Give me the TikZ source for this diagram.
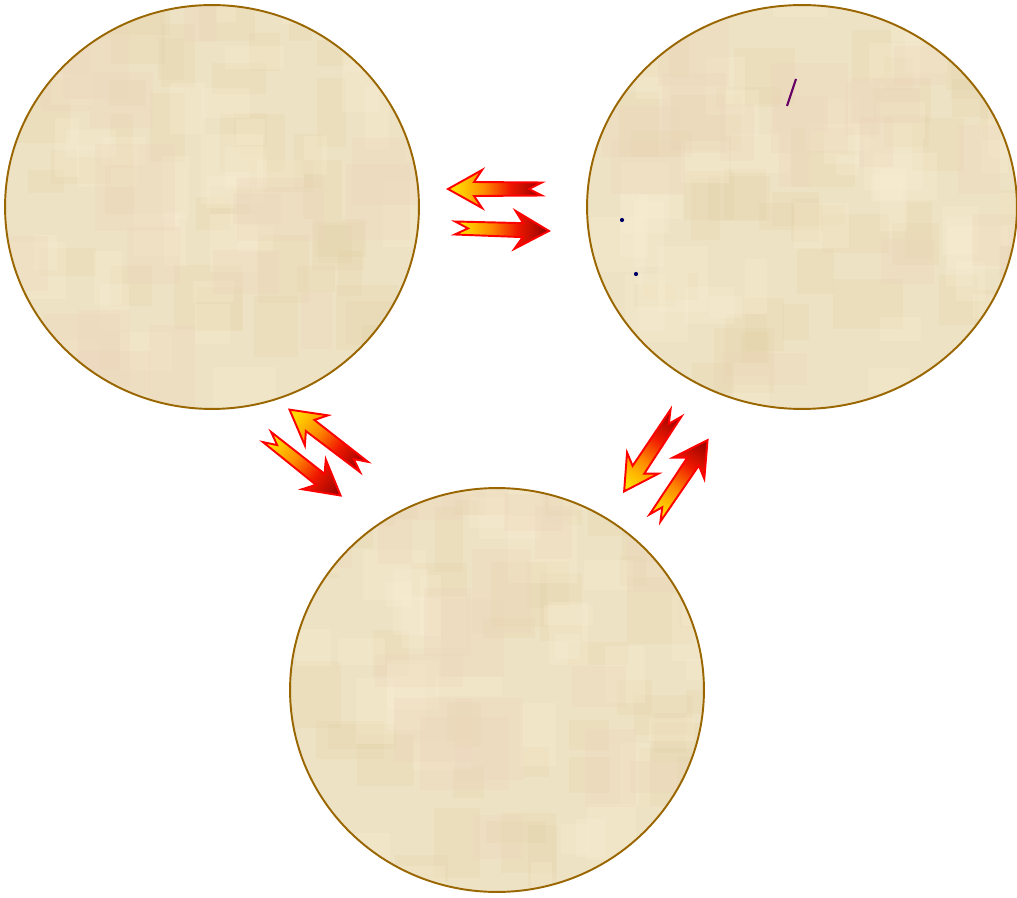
\documentclass[tikz,border=0pt]{standalone}
\usepackage{tikz}
\usetikzlibrary{shapes.geometric}
\definecolor{parchment}{RGB}{238,226,196}
\definecolor{parchlight}{RGB}{248,238,210}
\definecolor{parchtan}{RGB}{226,206,162}
\definecolor{parchpink}{RGB}{236,212,186}
\definecolor{rim}{RGB}{153,102,0}
\definecolor{flameyellow}{RGB}{255,220,0}
\definecolor{flameorange}{RGB}{255,140,0}
\definecolor{flamered}{RGB}{240,24,0}
\definecolor{flamedark}{RGB}{140,0,0}
\definecolor{arrowred}{RGB}{255,0,0}
\definecolor{tick}{RGB}{102,0,102}
\definecolor{dotblue}{RGB}{0,0,102}
\pgfdeclarehorizontalshading{flame}{100bp}{color(0bp)=(flameyellow); color(29bp)=(flameyellow);
  color(44bp)=(flameorange); color(58bp)=(flamered); color(75bp)=(flamedark); color(100bp)=(flamedark)}
\pgfdeclarehorizontalshading{flameback}{100bp}{color(0bp)=(flamedark); color(25bp)=(flamedark);
  color(42bp)=(flamered); color(56bp)=(flameorange); color(71bp)=(flameyellow); color(100bp)=(flameyellow)}
% block arrow: tail coordinate, angle, shading
\newcommand{\flowarrow}[3]{%
  \begin{scope}[transform canvas={shift={(#1)},rotate=#2}]
    \shade[shading=#3,draw=arrowred,line width=1.1pt,line join=miter]
      (0,6.5) -- (68,7) -- (60,19) -- (94,0) -- (60,-19) -- (68,-7) -- (0,-6.5) -- (13,0) -- cycle;
  \end{scope}}

\begin{document}
\begin{tikzpicture}[x=.02cm,y=.02cm,
  plate/.style={ellipse,draw=rim,line width=1.1pt,fill=parchment,inner sep=0pt,
    path picture={
      \foreach \k in {1,...,45} {\fill[parchtan,opacity=.18] (path picture bounding box.center) ++({rand*215},{rand*210}) rectangle ++({20+rnd*50},{20+rnd*50});}
      \foreach \k in {1,...,45} {\fill[parchlight,opacity=.3] (path picture bounding box.center) ++({rand*215},{rand*210}) rectangle ++({20+rnd*50},{20+rnd*50});}
      \foreach \k in {1,...,20} {\fill[parchpink,opacity=.25] (path picture bounding box.center) ++({rand*215},{rand*210}) rectangle ++({30+rnd*60},{30+rnd*60});}
    }}]
\pgfmathsetseed{7}
\useasboundingbox (0,0) rectangle (1017,897);
\node[plate,minimum width=8.28cm,minimum height=8.08cm] (west) at (212,690) {};
\node[plate,minimum width=8.6cm,minimum height=8.08cm] (east) at (802,690) {};
\node[plate,minimum width=8.28cm,minimum height=8.08cm] (south) at (497,207) {};
% marks in the east plate
\draw[tick,line width=1.2pt] (787,791) -- (796,818);
\fill[dotblue] (622,677) circle[radius=1.2pt];
\fill[dotblue] (636,623) circle[radius=1.2pt];
% arrow tails
\coordinate (we1) at (542,708);
\coordinate (we2) at (455,669);
\coordinate (ws1) at (364,430);
\coordinate (ws2) at (267,460);
\coordinate (es1) at (676,484);
\coordinate (es2) at (655,379);
\flowarrow{we1}{180}{flameback}
\flowarrow{we2}{-1.8}{flame}
\flowarrow{ws1}{142.4}{flameback}
\flowarrow{ws2}{-38.5}{flame}
\flowarrow{es1}{236.5}{flameback}
\flowarrow{es2}{56}{flame}
\end{tikzpicture}
\end{document}
